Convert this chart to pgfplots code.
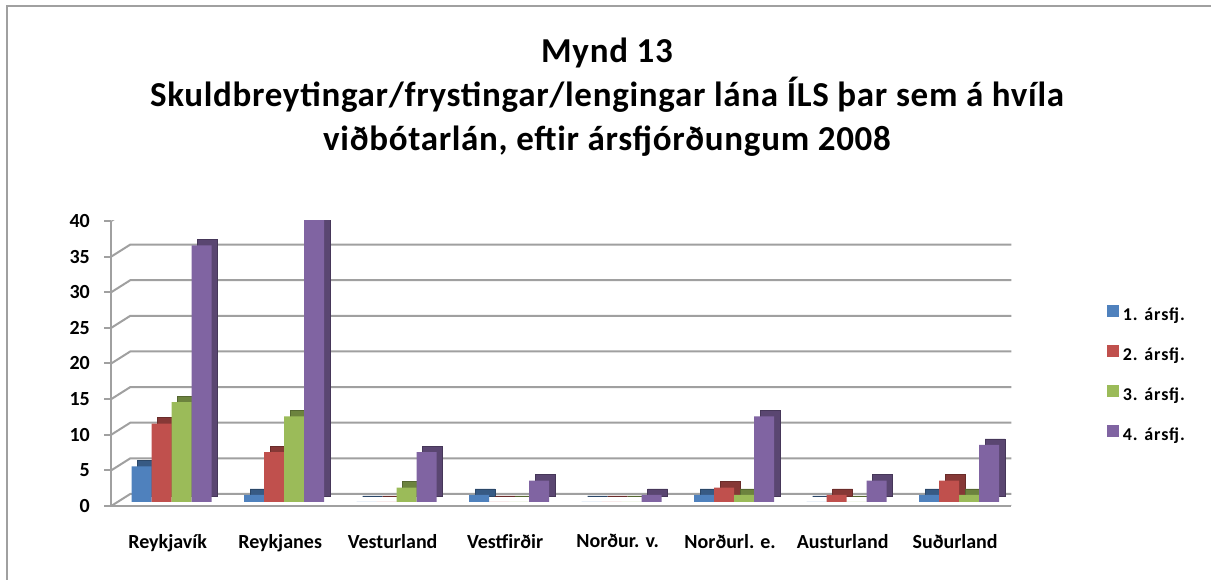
\documentclass[border=0pt]{standalone}
\usepackage{fontspec}
\setmainfont{Carlito}
\usepackage{pgfplots}
\pgfplotsset{compat=1.18}
\definecolor{qa}{HTML}{4F81BD}
\definecolor{qb}{HTML}{C0504D}
\definecolor{qc}{HTML}{9BBB59}
\definecolor{qd}{HTML}{8064A2}
\definecolor{gridc}{HTML}{A0A0A0}
\pgfplotstableread{
x q1 q2 q3 q4
0 5 11 14 36
1 1 7 12 40
2 0 0 2 7
3 1 0 0 3
4 0 0 0 1
5 1 2 1 12
6 0 1 0 3
7 1 3 1 8
}\data
\begin{document}
\begin{tikzpicture}[x=1pt,y=1pt]
\path[use as bounding box] (0,0) rectangle (1211,580);
\draw[gridc, line width=2pt] (7,-5) -- (7,574) -- (1216,574);
\node[font=\bfseries\fontsize{35}{44}\selectfont\addfontfeature{LetterSpace=2}, align=center, anchor=north, inner sep=0pt] at (607,542)
  {Mynd 13\\Skuldbreytingar/frystingar/lengingar lána ÍLS þar sem á hvíla\\viðbótarlán, eftir ársfjórðungum 2008};
\begin{axis}[
  at={(99,104)}, anchor=south west, scale only axis,
  width=900pt, height=285pt,
  xmin=-0.5, xmax=7.5, ymin=0, ymax=40,
  ybar, bar width=20pt,
  xtick={0,...,7},
  xticklabels={Reykjavík,Reykjanes,Vesturland,Vestfirðir,Norður. v.,Norðurl. e.,Austurland,Suðurland},
  major x tick style={draw=none},
  extra x ticks={-0.5,0.5,1.5,2.5,3.5,4.5,5.5,6.5,7.5},
  extra x tick labels={},
  extra x tick style={tick style={gridc, line width=2pt}, grid=none},
  ytick={0,5,...,40},
  axis x line*=bottom, axis y line*=left,
  axis line style={gridc, line width=2pt},
  tick style={gridc, line width=2pt},
  tick align=outside, major tick length=7pt,
  ticklabel style={font=\bfseries\fontsize{20}{22}\selectfont},
  xticklabel style={yshift=-18pt},
  yticklabel style={xshift=-11pt},
  /pgf/number format/assume math mode=true,
  legend style={at={(1.106,0.46)}, anchor=west, draw=none, fill=none, inner sep=0pt,
    font=\bfseries\fontsize{18}{20}\selectfont\addfontfeature{LetterSpace=5},
    row sep=21pt, legend cell align=left, nodes={inner xsep=4pt}},
  legend image code/.code={\fill[#1] (0pt,-5.5pt) rectangle (12pt,6pt);},
]
\draw[gridc, line width=2pt] (axis cs:-0.5,0) -- ++(19pt,12pt) -- ([xshift=19pt,yshift=12pt]axis cs:7.5,0) -- (axis cs:7.5,0);
\draw[gridc, line width=2pt] (axis cs:-0.5,5) -- ++(19pt,12pt) -- ([xshift=19pt,yshift=12pt]axis cs:7.5,5);
\draw[gridc, line width=2pt] (axis cs:-0.5,10) -- ++(19pt,12pt) -- ([xshift=19pt,yshift=12pt]axis cs:7.5,10);
\draw[gridc, line width=2pt] (axis cs:-0.5,15) -- ++(19pt,12pt) -- ([xshift=19pt,yshift=12pt]axis cs:7.5,15);
\draw[gridc, line width=2pt] (axis cs:-0.5,20) -- ++(19pt,12pt) -- ([xshift=19pt,yshift=12pt]axis cs:7.5,20);
\draw[gridc, line width=2pt] (axis cs:-0.5,25) -- ++(19pt,12pt) -- ([xshift=19pt,yshift=12pt]axis cs:7.5,25);
\draw[gridc, line width=2pt] (axis cs:-0.5,30) -- ++(19pt,12pt) -- ([xshift=19pt,yshift=12pt]axis cs:7.5,30);
\draw[gridc, line width=2pt] (axis cs:-0.5,35) -- ++(19pt,12pt) -- ([xshift=19pt,yshift=12pt]axis cs:7.5,35);
\draw[gridc, line width=2pt] (axis cs:-0.5,40) -- ++(19pt,12pt) -- ([xshift=19pt,yshift=12pt]axis cs:7.5,40);
\addplot[forget plot, bar shift=-26pt, fill=qa!70!black, draw=qa!55!black, xshift=6pt, yshift=10pt] table[y=q1] {\data};
\addplot[bar shift=-26pt, fill=qa, draw=none, yshift=4pt] table[y=q1] {\data};
\addplot[forget plot, bar shift=-6pt, fill=qb!70!black, draw=qb!55!black, xshift=6pt, yshift=10pt] table[y=q2] {\data};
\addplot[bar shift=-6pt, fill=qb, draw=none, yshift=4pt] table[y=q2] {\data};
\addplot[forget plot, bar shift=14pt, fill=qc!70!black, draw=qc!55!black, xshift=6pt, yshift=10pt] table[y=q3] {\data};
\addplot[bar shift=14pt, fill=qc, draw=none, yshift=4pt] table[y=q3] {\data};
\addplot[forget plot, bar shift=34pt, fill=qd!70!black, draw=qd!55!black, xshift=6pt, yshift=10pt] table[y=q4] {\data};
\addplot[bar shift=34pt, fill=qd, draw=none, yshift=4pt] table[y=q4] {\data};
\legend{1. ársfj.,2. ársfj.,3. ársfj.,4. ársfj.}
\end{axis}
\end{tikzpicture}
\end{document}
